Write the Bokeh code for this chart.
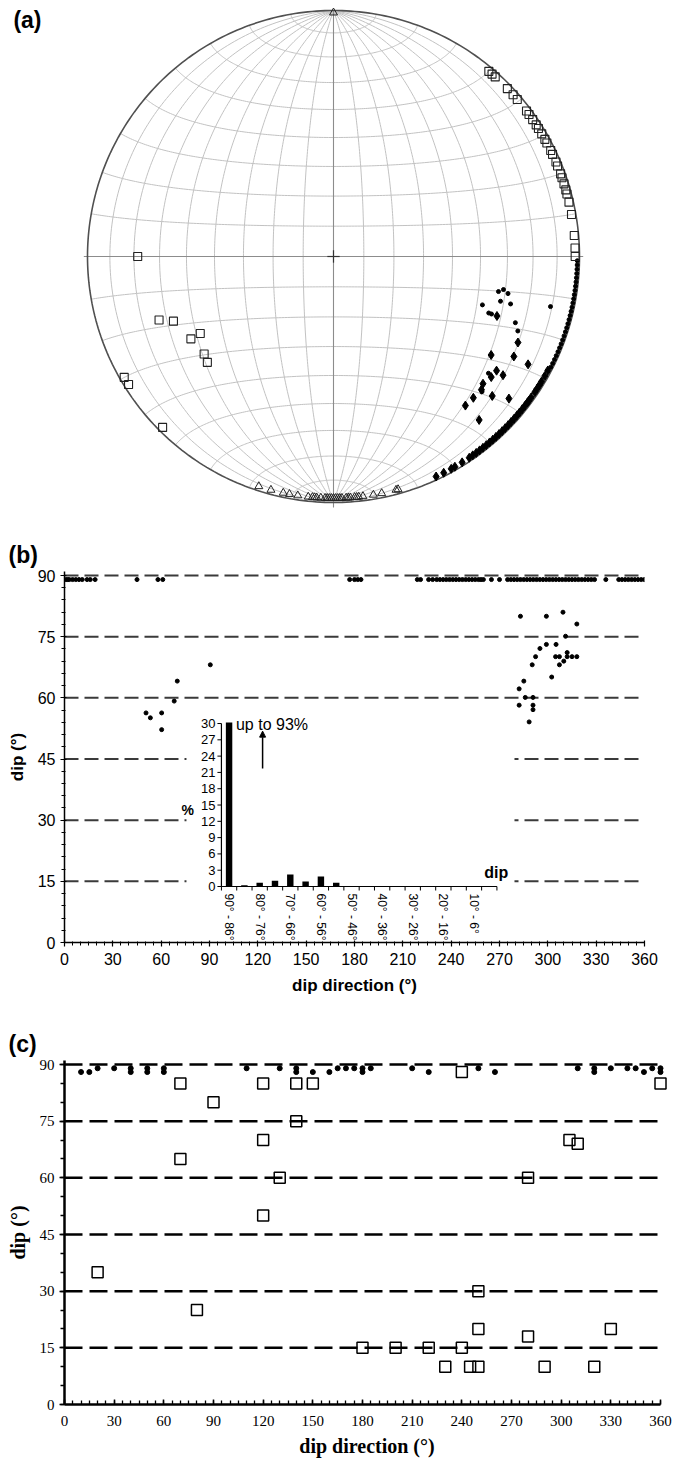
import numpy as np
from bokeh.plotting import figure
from bokeh.models import Range1d, FixedTicker, Arrow, NormalHead, LinearAxis, Title
from bokeh.layouts import column
from bokeh.core.properties import value
from bokeh.embed import file_html
from bokeh.resources import INLINE

# ======================= DATA =======================
# (a) stereonet poles: trend / plunge (degrees)
a_sq_trend = [40, 41, 42, 46, 48, 49.5, 53, 54, 55.5, 57, 58, 59.5, 61, 62, 64, 65, 67, 68,
              70, 71, 72.5, 74, 75, 77, 80, 85, 88, 90,
              270, 250, 248, 240, 240, 233, 230, 240, 238, 225]
a_sq_plunge = [2, 2, 2, 2, 2, 2, 2, 2, 2, 2, 2, 2, 2, 2, 2, 2, 2, 2,
               2, 2, 2, 2, 2, 2, 2, 2, 2, 2,
               21.5, 25.5, 30.5, 37.5, 33.5, 34.5, 33.5, 2, 2, 2]

a_tri_trend = [0, 198, 195, 192, 190.5, 188.5, 186, 185, 184.5, 184, 183, 182, 181.5, 181,
               180.5, 180, 179.5, 179, 178.5, 178, 177, 176.5, 176, 175, 174.5, 174, 173,
               170.5, 168.5, 165, 164.5]
a_tri_plunge = [1, 2, 2, 2, 2, 2, 2, 2, 2, 2, 2, 2, 2, 2,
                2, 2, 2, 2, 2, 2, 2, 2, 2, 2, 2, 2, 2,
                2, 2, 2, 2]

a_dot_trend = [102, 101, 102, 108, 105, 105, 103, 110, 110, 110, 112, 127, 132.3,
               91, 92, 93, 94, 95, 96, 97, 98, 99, 100, 101, 102, 103, 104, 105, 106,
               107, 108, 109, 110, 111, 112, 113, 114, 115, 116, 117]
a_dot_plunge = [32, 30.3, 28.3, 36.5, 30.4, 26.4, 10.4, 33.3, 32.2, 22.4, 20.3, 22.2, 19.5,
                1, 1, 1, 1, 1, 1, 1, 1, 1, 1, 1, 1, 1, 1, 1, 1,
                1, 1, 1, 1, 1, 1, 1, 1, 1, 1, 1]

a_dia_trend = [110, 115, 122, 119, 119, 127.4, 125, 125, 130.4, 132, 135.3, 131.3, 129,
               138.5, 138.3,
               118, 119.5, 121, 122, 123, 124, 125.5, 126.5, 127, 128, 129, 130, 131, 132,
               133, 134, 135, 136, 137, 138, 139, 140, 141, 142, 143, 144, 145, 146, 148,
               150, 151, 153, 155]
a_dia_plunge = [30, 18.4, 25.4, 17.3, 10.5, 20.4, 20.2, 17, 21.3, 20.2, 20.3, 15.2, 9.1,
                20.2, 12,
                1.5, 1.5, 1.5, 1.5, 1.5, 1.5, 1.5, 1.5, 1.5, 1.5, 1.5, 1.5, 1.5, 1.5,
                1.5, 1.5, 1.5, 1.5, 1.5, 1.5, 1.5, 1.5, 1.5, 1.5, 1.5, 1.5, 1.5, 1.5, 1.5,
                1.5, 1.5, 1.5, 1.5]

# (b) dip direction / dip
b_dir = [1, 2, 3, 5, 7, 9, 11, 14, 16, 19, 45, 58, 61, 177, 180, 182, 184, 219, 221,
         226, 228.5, 231, 233, 235, 237, 239, 241, 243, 245, 247, 249, 251, 253, 255, 257,
         258.5, 260, 265, 270, 275, 277, 279, 281, 283, 285, 287, 289, 291, 293, 295, 297,
         299, 301, 303, 305, 307, 309, 311, 313, 315, 317, 319, 321, 323, 325, 327, 329,
         336, 344, 346, 348, 350, 352, 354, 356, 358, 360,
         50.6, 53.3, 60.3, 60.3, 68.1, 70, 90.5,
         283, 282.2, 282.2, 285.1, 286, 288.4, 290.3, 290.8, 290.8, 290.8, 292.4, 295.1,
         299.1, 299.1, 302.4, 305.1, 304.8, 307.2, 307.2, 309.4, 309.9, 311, 312, 312,
         315, 318, 318]
b_dip = [89] * 77 + [56.3, 55.1, 56.3, 52.2, 59.2, 64.1, 68.1,
                     80, 62.2, 58.2, 64.1, 60.1, 54.1, 68.1, 60.1, 58.2, 57.1, 70.1, 72.1,
                     80, 73.1, 65.1, 73.1, 70.1, 70.1, 68.1, 81, 69, 75.1, 71.1, 70.1,
                     70.1, 70.1, 78.1]
b_xticks = [0, 30, 60, 90, 120, 150, 180, 210, 240, 270, 300, 330, 360]
b_yticks = [0, 15, 30, 45, 60, 75, 90]

# (b) inset histogram (% per dip class)
inset_classes = ["90° - 86°", "85° - 81°", "80° - 76°", "75° - 71°", "70° - 66°", "65° - 61°",
                 "60° - 56°", "55° - 51°", "50° - 46°", "45° - 41°", "40° - 36°", "35° - 31°",
                 "30° - 26°", "25° - 21°", "20° - 16°", "15° - 11°", "10° - 6°", "5° - 1°"]
inset_pct = [93, 0.25, 0.7, 1.05, 2.2, 0.9, 1.85, 0.7, 0, 0, 0, 0, 0, 0, 0, 0, 0, 0]
inset_yticks = [0, 3, 6, 9, 12, 15, 18, 21, 24, 27, 30]
inset_cap = 30

# (c) dip direction / dip
c_sq_dir = [20, 70, 70, 80, 90, 120, 120, 120, 130, 140, 140, 150, 180, 200, 220, 230, 240,
            240, 245, 250, 250, 250, 280, 280, 290, 305, 310, 320, 330, 360]
c_sq_dip = [35, 85, 65, 25, 80, 85, 70, 50, 60, 85, 75, 85, 15, 15, 15, 10, 15,
            88, 10, 10, 20, 30, 18, 60, 10, 70, 69, 10, 20, 85]
c_dot_dir = [10, 15, 20, 30, 40, 40, 50, 50, 60, 60, 110, 130, 140, 140, 150, 160, 165, 170,
             175, 180, 180, 185, 210, 220, 250, 260, 310, 320, 320, 330, 340, 345, 350, 355,
             360, 360]
c_dot_dip = [88, 88, 89, 89, 89, 88, 89, 88, 89, 88, 89, 89, 89, 88, 88, 88, 89, 89,
             89, 89, 88, 89, 89, 88, 89, 88, 89, 89, 88, 89, 89, 89, 88, 89,
             89, 88]
c_xticks = [0, 30, 60, 90, 120, 150, 180, 210, 240, 270, 300, 330, 360]
c_yticks = [0, 15, 30, 45, 60, 75, 90]

# ======================= HELPERS =======================
SANS = "Liberation Sans"
SERIF = "Liberation Serif"
FULL_W = 674
LEFT = 64          # common frame left edge for all panels


def proj(trend, plunge):
    """Lower-hemisphere equal-area (Schmidt) projection, unit primitive."""
    t = np.radians(np.asarray(trend, float))
    p = np.radians(np.asarray(plunge, float))
    E = np.cos(p) * np.sin(t)
    N = np.cos(p) * np.cos(t)
    D = np.sin(p)
    s = np.sqrt(1 + D)
    return E / s, N / s


def base_fig(**kw):
    f = figure(output_backend="svg", toolbar_location=None, title=None, **kw)
    f.grid.visible = False
    f.outline_line_color = None
    f.background_fill_color = "white"
    f.border_fill_color = "white"
    return f


def panel_title(text, standoff):
    return Title(text=text, align="left", offset=8 - LEFT, standoff=standoff,
                 text_font=SANS, text_font_style="bold", text_font_size="23px",
                 text_color="black")


# ======================= (a) STEREONET =======================
PA_H = 530
CX, CY, RAD = 333, 256, 246  # centre / radius in px
pa = base_fig(frame_width=FULL_W - LEFT, frame_height=PA_H, min_border_left=LEFT,
              min_border_right=0, min_border_top=0, min_border_bottom=0,
              x_axis_location=None, y_axis_location=None,
              x_range=Range1d((LEFT - CX) / RAD, (FULL_W - CX) / RAD),
              y_range=Range1d(-(PA_H - CY) / RAD, CY / RAD))

lat = np.radians(np.arange(-90, 90.5, 1.0))
ang = np.radians(np.arange(0, 180.5, 1.0))
gx, gy = [], []
for b in range(10, 180, 10):
    if b == 90:
        continue
    be = np.radians(b)
    E = np.cos(lat) * np.cos(be); N = np.sin(lat); D = np.cos(lat) * np.sin(be)
    s = np.sqrt(1 + D)
    gx.append(list(E / s)); gy.append(list(N / s))
for l in range(-80, 90, 10):
    if l == 0:
        continue
    la = np.radians(l)
    E = np.cos(la) * np.cos(ang); N = np.full_like(ang, np.sin(la)); D = np.cos(la) * np.sin(ang)
    s = np.sqrt(1 + D)
    gx.append(list(E / s)); gy.append(list(N / s))
pa.multi_line(gx, gy, line_color="#c2c2c2", line_width=1)
pa.segment(x0=[-1.015, 0], y0=[0, -1.02], x1=[1.015, 0], y1=[0, 1.0],
           line_color="#8c8c8c", line_width=1.1)
circ = np.radians(np.arange(0, 361, 1.0))
pa.line(np.cos(circ), np.sin(circ), line_color="#505050", line_width=1.6)
pa.segment(x0=[-0.025, 0], y0=[0, -0.025], x1=[0.025, 0], y1=[0, 0.025],
           line_color="#333333", line_width=1.2)

x, y = proj(a_dot_trend, a_dot_plunge)
pa.scatter(x, y, marker="circle", size=4, color="black")
x, y = proj(a_dia_trend, a_dia_plunge)
pa.scatter(x, y, marker="diamond", size=9, color="black")
x, y = proj(a_sq_trend, a_sq_plunge)
pa.scatter(x, y, marker="square", size=8, fill_color=None, line_color="#222222", line_width=1.1)
x, y = proj(a_tri_trend, a_tri_plunge)
pa.scatter(x, y, marker="triangle", size=8, fill_color=None, line_color="#222222", line_width=1)

# panel letter (a) as the single label of a bare left axis
A_Y = round((CY - 19) / RAD, 4)
lab_axis = LinearAxis(ticker=FixedTicker(ticks=[A_Y]), major_label_overrides={A_Y: "(a)"},
                      axis_line_color=None, major_tick_line_color=None,
                      minor_tick_line_color=None, major_tick_out=0, major_tick_in=0,
                      major_label_standoff=LEFT - 41, major_label_text_font=SANS,
                      major_label_text_font_style="bold", major_label_text_font_size="23px",
                      major_label_text_color="black")
pa.add_layout(lab_axis, "left")

# ======================= (b) =======================
B_FW, B_FH, B_T = 580, 371, 41
PB_H = 482
B_YEND = 90 + 4 * 90 / 367.0
pb = base_fig(frame_width=B_FW, frame_height=B_FH, min_border_left=LEFT,
              min_border_right=FULL_W - LEFT - B_FW, min_border_top=B_T,
              min_border_bottom=PB_H - B_T - B_FH,
              x_range=Range1d(0, 360), y_range=Range1d(0, B_YEND))
pb.add_layout(panel_title("(b)", 8), "above")

for ax in (pb.xaxis[0], pb.yaxis[0]):
    ax.axis_line_color = "black"; ax.axis_line_width = 1.5
    ax.major_tick_line_color = "black"; ax.major_tick_line_width = 1.2
    ax.minor_tick_line_color = "black"; ax.minor_tick_line_width = 1
    ax.major_tick_in = 2; ax.major_tick_out = 4
    ax.minor_tick_in = 1; ax.minor_tick_out = 3
    ax.major_label_text_font = SANS; ax.major_label_text_font_size = "16px"
    ax.major_label_text_color = "black"
    ax.axis_label_text_font = SANS; ax.axis_label_text_font_style = "bold"
    ax.axis_label_text_font_size = "17px"; ax.axis_label_text_color = "black"
pb.xaxis[0].ticker = FixedTicker(ticks=b_xticks, minor_ticks=list(range(0, 361, 5)))
pb.yaxis[0].ticker = FixedTicker(ticks=b_yticks, minor_ticks=list(range(0, 91, 3)))
pb.xaxis[0].axis_label = "dip direction (°)"
pb.yaxis[0].axis_label = "dip (°)"
pb.xaxis[0].major_label_standoff = 6
pb.xaxis[0].axis_label_standoff = 8
pb.yaxis[0].major_label_standoff = 5
pb.yaxis[0].axis_label_standoff = 8

nlev = len(b_yticks) - 1
pb.segment(x0=[0] * nlev, y0=b_yticks[1:], x1=[360] * nlev, y1=b_yticks[1:],
           line_color="#3a3a3a", line_width=2, line_dash="14 6")
# blank area behind the inset
pb.quad(left=75.7, right=279.3, bottom=0.8, top=50, fill_color="white", line_color=None)
pb.scatter(b_dir, b_dip, marker="circle", size=4, color="black")

# inset: categories 0..18 -> dip dir 97.4..268.4 ; 0..30 % -> dip 13.73..53.7
IX0, IX1, IY0, IY1 = 97.4, 268.4, 13.73, 53.7
kx = len(inset_classes) / (IX1 - IX0)
ky = inset_cap / (IY1 - IY0)
pb.extra_x_ranges = {"ix": Range1d((0 - IX0) * kx, (360 - IX0) * kx)}
pb.extra_y_ranges = {"iy": Range1d((0 - IY0) * ky, (B_YEND - IY0) * ky)}
R = dict(x_range_name="ix", y_range_name="iy")

ncat = len(inset_classes)
bx = [i + 0.5 for i in range(ncat)]
btop = [min(v, inset_cap + 0.2) for v in inset_pct]
pb.vbar(x=bx, top=btop, bottom=0, width=0.42, fill_color="black", line_color=None, **R)
pb.line([0, 0], [0, inset_cap], line_color="black", line_width=1.2, **R)
pb.line([0, ncat], [0, 0], line_color="black", line_width=1.2, **R)
pb.ray(x=[0] * len(inset_yticks), y=inset_yticks, length=4, length_units="screen",
       angle=np.pi, line_color="black", line_width=1, **R)
pb.ray(x=list(range(ncat + 1)), y=[0] * (ncat + 1), length=4, length_units="screen",
       angle=-np.pi / 2, line_color="black", line_width=1, **R)
pb.text(x=[0] * len(inset_yticks), y=inset_yticks, text=[str(v) for v in inset_yticks],
        x_offset=-6, text_align="right", text_baseline="middle",
        text_font=value(SANS), text_font_size="13px", text_color="black", **R)
lab_idx = list(range(0, ncat - 1, 2))
pb.text(x=[bx[i] for i in lab_idx], y=[0] * len(lab_idx), text=[inset_classes[i] for i in lab_idx],
        angle=-np.pi / 2, y_offset=7, text_align="left", text_baseline="middle",
        text_font=value(SANS), text_font_size="12px", text_color="black", **R)
pb.text(x=[-2.2], y=[14], text=["%"], text_align="center", text_baseline="middle",
        text_font=value(SANS), text_font_style="bold", text_font_size="14px", text_color="black", **R)
pb.text(x=[17.95], y=[2.6], text=["dip"], text_align="center", text_baseline="middle",
        text_font=value(SANS), text_font_style="bold", text_font_size="16px", text_color="black", **R)
pb.text(x=[0.95], y=[29.8], text=["up to 93%"], text_align="left", text_baseline="middle",
        text_font=value(SANS), text_font_size="16px", text_color="black", **R)
pb.add_layout(Arrow(end=NormalHead(size=6, fill_color="black", line_color="black"),
                    x_start=2.69, y_start=21.7, x_end=2.69, y_end=28.6,
                    line_color="black", line_width=1.5, **R))

# ======================= (c) =======================
C_PX = 596 / 360.0
C_FW = FULL_W - LEFT - 5
C_XEND = C_FW / C_PX
C_T, C_FH = 48, 344
PC_H = 449
C_YEND = 90 + 4 * 90 / 340.0
pc = base_fig(frame_width=C_FW, frame_height=C_FH, min_border_left=LEFT,
              min_border_right=FULL_W - LEFT - C_FW, min_border_top=C_T,
              min_border_bottom=PC_H - C_T - C_FH,
              x_range=Range1d(0, C_XEND), y_range=Range1d(0, C_YEND))
pc.add_layout(panel_title("(c)", 8), "above")
for ax in (pc.xaxis[0], pc.yaxis[0]):
    ax.axis_line_color = "black"; ax.axis_line_width = 2.5
    ax.major_tick_line_color = "black"; ax.major_tick_line_width = 1.5
    ax.minor_tick_line_color = "black"; ax.minor_tick_line_width = 1.3
    ax.major_label_text_font = SERIF; ax.major_label_text_font_size = "15px"
    ax.major_label_text_color = "black"
    ax.axis_label_text_font = SERIF; ax.axis_label_text_font_style = "bold"
    ax.axis_label_text_font_size = "20px"; ax.axis_label_text_color = "black"
pc.xaxis[0].bounds = (0, 360)
pc.xaxis[0].major_tick_in = 5; pc.xaxis[0].major_tick_out = 0
pc.xaxis[0].minor_tick_in = 4; pc.xaxis[0].minor_tick_out = 0
pc.yaxis[0].major_tick_in = 0; pc.yaxis[0].major_tick_out = 5
pc.yaxis[0].minor_tick_in = 0; pc.yaxis[0].minor_tick_out = 4
pc.xaxis[0].ticker = FixedTicker(ticks=c_xticks, minor_ticks=list(range(0, 361, 5)))
pc.yaxis[0].ticker = FixedTicker(ticks=c_yticks, minor_ticks=list(range(0, 91, 5)))
pc.xaxis[0].axis_label = "dip direction (°)"
pc.yaxis[0].axis_label = "dip (°)"
pc.xaxis[0].major_label_standoff = 11
pc.xaxis[0].axis_label_standoff = 6
pc.yaxis[0].major_label_standoff = 5
pc.yaxis[0].axis_label_standoff = 8

nlev = len(c_yticks) - 1
pc.segment(x0=[0] * nlev, y0=c_yticks[1:], x1=[360] * nlev, y1=c_yticks[1:],
           line_color="black", line_width=2.5, line_dash="18 7")
pc.scatter(c_dot_dir, c_dot_dip, marker="circle", size=5, color="black")
pc.scatter(c_sq_dir, c_sq_dip, marker="square", size=11, fill_color=None,
           line_color="black", line_width=1.5)

layout = column(pa, pb, pc, spacing=0)
open("out.html", "w").write(file_html(layout, INLINE))
